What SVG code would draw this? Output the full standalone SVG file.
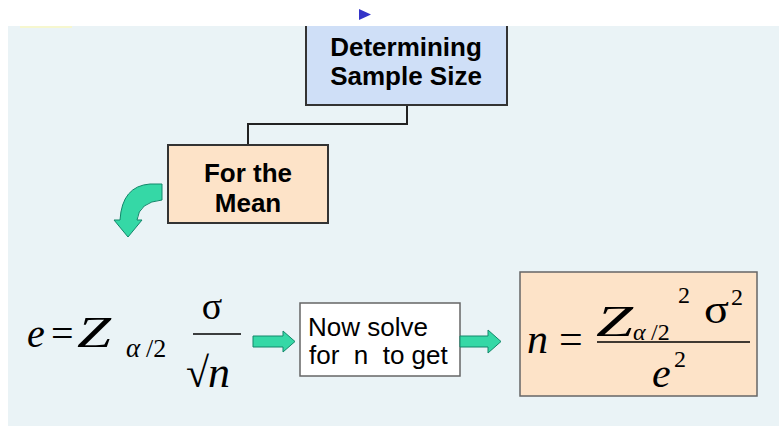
<svg xmlns="http://www.w3.org/2000/svg" width="779" height="426" viewBox="0 0 779 426">
<style>
.bold{font-family:"Liberation Sans",Arial,sans-serif;font-weight:bold;font-size:26px;fill:#000;text-anchor:middle}
.sans{font-family:"Liberation Sans",Arial,sans-serif;font-size:26px;fill:#000}
.m{font-family:"Liberation Serif","Times New Roman",serif;fill:#000}
.mi{font-family:"Liberation Serif","Times New Roman",serif;font-style:italic;fill:#000}
.box{stroke:#333;stroke-width:2}
.fbox{stroke:#666;stroke-width:1.5}
.garrow{fill:#35d8a6;stroke:#12876a;stroke-width:1}
.conn{fill:none;stroke:#222;stroke-width:2}
.frac{stroke:#000;stroke-width:1.5}
</style>
<rect x="0" y="0" width="779" height="426" fill="#ffffff"/>
<rect x="8" y="26" width="771" height="400" fill="#eaf3f6"/>
<rect x="20" y="25" width="52" height="3" fill="#f6f7cf"/>

<g id="connectors">
  <path class="conn" d="M407,105 V124 H248 V145"/>
</g>

<g id="node-determining">
  <rect class="box" x="306" y="14" width="201" height="91" fill="#cfdff7"/>
  <text class="bold" x="406" y="56">Determining</text>
  <text class="bold" x="406" y="85">Sample Size</text>
</g>

<rect x="0" y="0" width="779" height="26" fill="#ffffff"/>
<polygon points="359,9 371,14.5 359,20" fill="#3434c8"/>

<g id="node-mean">
  <rect class="box" x="168" y="145" width="160" height="78" fill="#fde3c8"/>
  <text class="bold" x="248" y="182">For the</text>
  <text class="bold" x="248" y="212">Mean</text>
</g>

<g id="curved-arrow">
  <path class="garrow" d="M162,184 L150,184 Q122,186 120,220 L114,220 L128,237 L142,220 L137,220 Q139,202 162,200 Z"/>
</g>

<g id="formula-e">
  <text class="mi" x="27" y="347" font-size="40">e</text>
  <text class="m" x="51" y="347" font-size="40">=</text>
  <text class="mi" x="77" y="347" font-size="44" textLength="34" lengthAdjust="spacingAndGlyphs">Z</text>
  <text class="mi" x="126" y="357" font-size="27">α</text>
  <text class="m" x="146" y="357" font-size="26">/2</text>
  <text class="m" x="212" y="319" font-size="38" text-anchor="middle">σ</text>
  <line class="frac" x1="193" y1="334" x2="241" y2="334"/>
  <text class="m" x="186" y="387" font-size="42">√</text>
  <text class="mi" x="208" y="387" font-size="44">n</text>
</g>

<g id="arrow-1">
  <path class="garrow" d="M253,336 L283,336 L283,331 L295,341.5 L283,352 L283,347 L253,347 Z"/>
</g>

<g id="node-solve">
  <rect class="fbox" x="300" y="303" width="160" height="73" fill="#ffffff"/>
  <text class="sans" x="308" y="336">Now solve</text>
  <text class="sans" x="309" y="364" xml:space="preserve">for  n  to get</text>
</g>

<g id="arrow-2">
  <path class="garrow" d="M460,336 L488,336 L488,330 L501,341.5 L488,353 L488,347 L460,347 Z"/>
</g>

<g id="node-result">
  <rect class="fbox" x="520" y="272" width="237" height="124" fill="#fde3c8"/>
  <text class="mi" x="527" y="353" font-size="42">n</text>
  <text class="m" x="559" y="353" font-size="42">=</text>
  <text class="mi" x="596" y="336" font-size="44" textLength="37" lengthAdjust="spacingAndGlyphs">Z</text>
  <text class="mi" x="633" y="340" font-size="24">α</text>
  <text class="m" x="651" y="340" font-size="24">/2</text>
  <text class="m" x="678" y="303" font-size="24">2</text>
  <text class="m" x="704" y="323" font-size="40" textLength="25" lengthAdjust="spacingAndGlyphs">σ</text>
  <text class="m" x="731" y="305" font-size="24">2</text>
  <line class="frac" x1="597" y1="342" x2="750" y2="342"/>
  <text class="mi" x="652" y="387" font-size="42">e</text>
  <text class="m" x="674" y="367" font-size="24">2</text>
</g>
</svg>
